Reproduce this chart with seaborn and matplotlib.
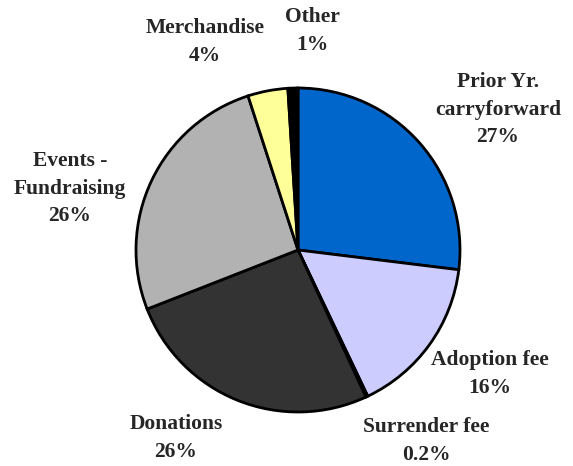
import matplotlib
matplotlib.use("Agg")
import matplotlib.pyplot as plt
import seaborn as sns

# 数据
categories = ["Prior Yr.\ncarryforward", "Adoption fee", "Surrender fee", "Donations",
              "Events -\nFundraising", "Merchandise", "Other"]
shares = [27, 16, 0.2, 26, 26, 4, 1]
pct_labels = ["27%", "16%", "0.2%", "26%", "26%", "4%", "1%"]
colors = ["#0066CC", "#CCCCFF", "#1A1A1A", "#333333", "#B2B2B2", "#FFFF99", "#000000"]

# 标签中心位置（像素）
label_px = [(498, 110), (490, 374), (426, 441), (176, 438), (70, 189), (205, 42), (312, 31)]

W, H = 573, 466
CX, CY, R = 298, 250, 162

sns.set_style("white")
plt.rcParams['font.family'] = ['Liberation Serif', 'DejaVu Serif']

fig = plt.figure(figsize=(W / 100, H / 100), dpi=100)
ax = fig.add_axes([0, 0, 1, 1])

ax.pie(shares, colors=colors, startangle=90, counterclock=False, radius=1,
       wedgeprops=dict(edgecolor="black", linewidth=2))

for cat, pct, (px, py) in zip(categories, pct_labels, label_px):
    ax.text((px - CX) / R, (CY - py) / R, f"{cat}\n{pct}", ha="center", va="center",
            fontsize=15.5, fontweight="bold", linespacing=1.5)

ax.set_xlim(-CX / R, (W - CX) / R)
ax.set_ylim(-(H - CY) / R, CY / R)
ax.set_aspect("equal")
ax.axis("off")

fig.savefig("out.png", dpi=100)
